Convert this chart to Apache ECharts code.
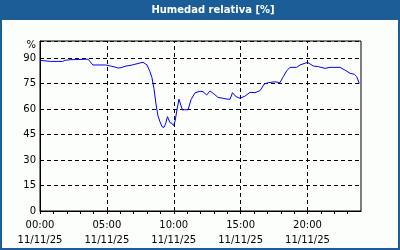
<!DOCTYPE html>
<html><head><meta charset="utf-8">
<style>html,body{margin:0;padding:0;background:#fcfefc;}#c{width:400px;height:250px;}</style>
<script src="https://cdn.jsdelivr.net/npm/echarts@6/dist/echarts.min.js"></script>
</head><body><div id="c"></div>
<script>
const title = 'Humedad relativa [%]';
const dateLabel = '11/11/25';
const hours = [0,0.08,0.8,1.7,1.85,2.25,3.6,3.75,3.95,4.9,5.0,5.25,5.6,5.83,6.06,6.43,6.73,7.25,7.7,8.0,8.22,8.37,8.52,8.67,8.82,8.97,9.12,9.27,9.38,9.53,9.72,9.87,9.98,10.09,10.24,10.39,10.54,10.65,10.84,11.07,11.29,11.59,11.96,12.19,12.46,12.71,13.08,13.31,13.68,13.98,14.21,14.39,14.65,14.95,15.33,15.7,16.07,16.45,16.77,17.07,17.57,17.94,18.19,18.45,18.69,19.19,19.44,19.81,20.01,20.43,20.81,21.31,21.68,22.43,22.8,23.18,23.51,23.68,23.87];
const humidity = [88.6,88.8,88.0,88.0,88.6,89.0,89.3,87.8,85.9,85.9,86.5,85.3,84.7,84.1,84.3,85.3,85.6,86.6,87.5,85.9,82,78.5,72,63,56,52.5,49.6,49.2,51,55.5,52,51.5,50.3,52.5,59.5,65.8,62,59.4,59.6,59.5,65.5,69.5,70.4,70.2,68.2,70.6,68.4,66.8,66.3,65.8,65.7,69.6,67.3,66.3,67.6,69.8,69.6,70.8,74.7,75.5,76,75.5,79,82.5,84.5,84.5,85.9,86.9,87.4,85.3,84.9,83.9,84.5,84.5,82.9,81,80.4,79,75.1];
const yTicks = [0,15,30,45,60,75,90];
const xMajor = [0,5,10,15,20];

const chart = echarts.init(document.getElementById('c'), null, {renderer:'canvas'});
const font = 'DejaVu Sans';
const pad = n => (n<10?'0':'')+n;
const pts = hours.map((h,i)=>[h,humidity[i]]);
chart.setOption({
  animation:false,
  backgroundColor:'#fcfefc',
  textStyle:{fontFamily:font},
  graphic:[
    {type:'rect',shape:{x:0,y:0,width:400,height:20},style:{fill:'#1b5e97'},z:10},
    {type:'rect',shape:{x:0,y:0,width:2,height:250},style:{fill:'#1b5e97'},z:10},
    {type:'rect',shape:{x:398,y:0,width:2,height:250},style:{fill:'#1b5e97'},z:10},
    {type:'rect',shape:{x:0,y:248,width:400,height:2},style:{fill:'#1b5e97'},z:10},
    {type:'text',x:213,y:10,style:{text:title,fill:'#ffffff',font:'bold 10px "DejaVu Sans"',align:'center',verticalAlign:'middle'},z:11},
    {type:'text',x:36,y:45,style:{text:'%',fill:'#000',font:'10px "DejaVu Sans"',align:'right',verticalAlign:'middle'},z:11}
  ],
  grid:{left:40,top:41,right:39,bottom:39,show:true,borderColor:'#000',borderWidth:1,backgroundColor:'transparent'},
  xAxis:{
    type:'value',min:0,max:24,interval:1,
    axisLine:{show:true,onZero:false,lineStyle:{color:'#000',width:1}},
    axisTick:{show:true,length:3,lineStyle:{color:'#000',width:1}},
    axisLabel:{showMaxLabel:false,color:'#000',fontSize:10,fontFamily:font,lineHeight:15,margin:7,
      formatter:v=>xMajor.indexOf(v)>=0 ? pad(v)+':00\n'+dateLabel : ''},
    splitLine:{show:false}
  },
  yAxis:{
    type:'value',min:0,max:100,interval:15,
    axisLine:{show:true,lineStyle:{color:'#000',width:1}},
    axisTick:{show:false},
    axisLabel:{color:'#000',fontSize:10,fontFamily:font,margin:4,
      formatter:v=>yTicks.indexOf(v)>=0?String(v):''},
    splitLine:{show:true,lineStyle:{color:'#000',type:[4,3],width:1}}
  },
  series:[{
    type:'line',
    data:pts,
    showSymbol:false,symbol:'none',
    lineStyle:{color:'#0000ff',width:1},
    itemStyle:{color:'#0000ff'},z:5,
    markLine:{
      silent:true,symbol:['none','none'],label:{show:false},
      lineStyle:{color:'#000',type:[4,3],width:1},
      emphasis:{disabled:true},
      data:xMajor.filter(v=>v>0).map(v=>({xAxis:v}))
    }
  }]
});
</script></body></html>
